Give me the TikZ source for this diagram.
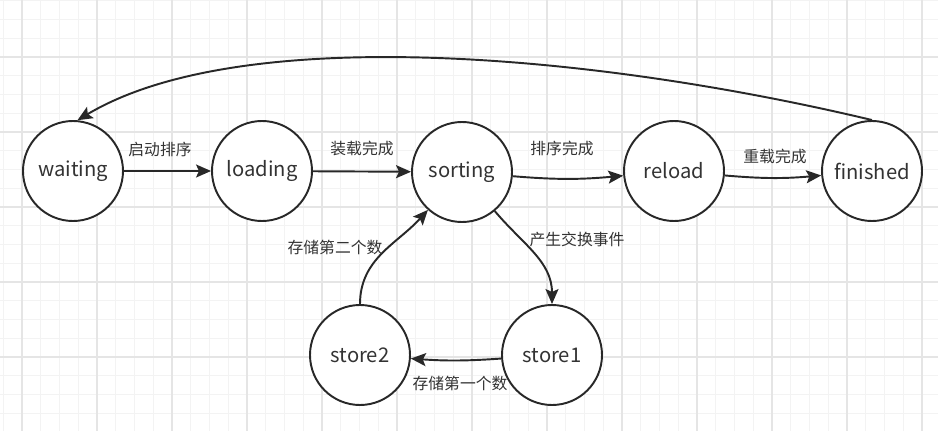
\documentclass[tikz,border=0pt]{standalone}
\usepackage{fontspec}
\usepackage{xcolor}
\usetikzlibrary{arrows.meta}
\setmainfont{Noto Sans CJK SC}
\definecolor{gridminor}{RGB}{243,243,243}
\definecolor{gridmajor}{RGB}{229,229,229}
\definecolor{darkline}{RGB}{40,40,40}
\definecolor{textgray}{RGB}{51,51,51}

\begin{document}
\begin{tikzpicture}[>={Stealth[length=3mm, width=2.6mm, inset=0.6mm]}]
    \tikzstyle{statenode} = [circle, minimum size=2cm, inner sep=0pt, draw=darkline, line width=1.1pt, fill=white, text=textgray, font=\fontsize{11.5}{13}\selectfont]
    \tikzstyle{edgelabel} = [inner sep=1pt, text=textgray, font=\fontsize{9}{11}\selectfont]
    \tikzstyle{transition} = [->, draw=darkline, line width=1.1pt]

    % background grid
    \useasboundingbox (0,0) rectangle (18.76,8.62);
    \fill[white] (0,0) rectangle (18.76,8.62);
    \foreach \x in {0.065,0.44,...,18.76} \draw[gridminor, line width=0.5pt] (\x,0) -- (\x,8.62);
    \foreach \y in {0.355,0.73,...,8.62} \draw[gridminor, line width=0.5pt] (0,\y) -- (18.76,\y);
    \foreach \x in {0.44,1.94,...,18.76} \draw[gridmajor, line width=0.6pt] (\x,0) -- (\x,8.62);
    \foreach \y in {1.48,2.98,...,8.62} \draw[gridmajor, line width=0.6pt] (0,\y) -- (18.76,\y);

    % states of the sorting process
    \node [statenode] (waiting) at (1.46,5.20) {waiting};
    \node [statenode] (loading) at (5.24,5.20) {loading};
    \node [statenode] (sorting) at (9.24,5.18) {sorting};
    \node [statenode] (reload) at (13.48,5.20) {reload};
    \node [statenode] (finished) at (17.44,5.20) {finished};
    \node [statenode] (store2) at (7.20,1.52) {store2};
    \node [statenode] (store1) at (11.04,1.52) {store1};

    % transitions
    \draw [transition] (waiting) -- (loading);
    \draw [transition] (loading) -- (sorting);
    \draw [transition] (sorting) to[bend right=5] (reload);
    \draw [transition] (reload) to[bend right=5] (finished);
    \draw [transition] (sorting) to[out=-50, in=90] (store1.north);
    \draw [transition] (store1) to[bend left=4] (store2);
    \draw [transition] (store2.north) to[out=90, in=-132] (sorting);
    \draw [transition] (finished.north) .. controls (11.82,7.56) and (4.80,8.16) .. (waiting.85);

    % transition labels
    \node [edgelabel] (startlbl) at (3.20,5.64) {启动排序};
    \node [edgelabel] (loadlbl) at (7.24,5.66) {装载完成};
    \node [edgelabel] (sortlbl) at (11.24,5.66) {排序完成};
    \node [edgelabel] (reloadlbl) at (15.50,5.50) {重载完成};
    \node [edgelabel] (swaplbl) at (11.54,3.84) {产生交换事件};
    \node [edgelabel] (secondlbl) at (6.70,3.68) {存储第二个数};
    \node [edgelabel] (firstlbl) at (9.20,0.96) {存储第一个数};
\end{tikzpicture}
\end{document}
